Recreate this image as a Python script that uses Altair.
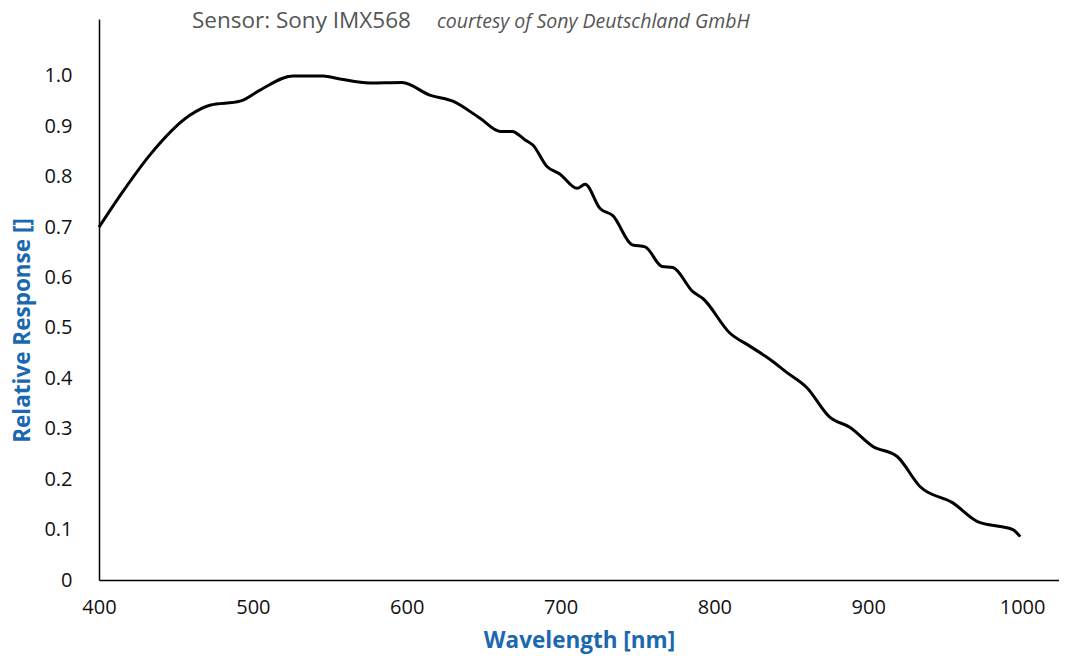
import altair as alt
import pandas as pd

wavelength = [400, 415.6, 433, 459, 472, 491.7, 504.7, 526, 545.6, 556.7, 576, 597,
              615, 630, 647.7, 660.7, 668.5, 677, 682, 691, 699.7, 710.8, 716, 725.7,
              734, 746.6, 755, 766, 773, 786, 792.7, 810, 823, 836, 847, 860, 875, 888,
              903, 918.8, 933.8, 955, 971, 985.8, 994, 998.8]
response = [0.70, 0.771, 0.843, 0.922, 0.942, 0.950, 0.972, 1.0, 1.0, 0.994, 0.986, 0.987,
            0.962, 0.950, 0.916, 0.890, 0.890, 0.873, 0.863, 0.821, 0.805, 0.777, 0.785, 0.737,
            0.723, 0.665, 0.661, 0.622, 0.620, 0.572, 0.558, 0.490, 0.464, 0.438, 0.412, 0.382,
            0.323, 0.303, 0.265, 0.245, 0.185, 0.153, 0.116, 0.106, 0.100, 0.086]

df = pd.DataFrame({"wl": wavelength, "r": response})

BLUE = "#1a69b0"
FONT = "Open Sans"

line = alt.Chart(df).mark_line(color="black", strokeWidth=3, interpolate="monotone").encode(
    x=alt.X("wl:Q", scale=alt.Scale(domain=[400, 1024], nice=False, zero=False),
            axis=alt.Axis(values=[400, 500, 600, 700, 800, 900, 1000], title="Wavelength [nm]",
                          format="d", labelFlush=False,
                          grid=False, ticks=False, domainColor="black", domainWidth=1.5,
                          labelFont=FONT, labelFontSize=20, labelColor="#111", labelPadding=17,
                          titleFont=FONT, titleFontSize=22.5, titleFontWeight="bold",
                          titleColor=BLUE, titlePadding=12)),
    y=alt.Y("r:Q", scale=alt.Scale(domain=[0, 1.113], nice=False),
            axis=alt.Axis(values=[0, 0.1, 0.2, 0.3, 0.4, 0.5, 0.6, 0.7, 0.8, 0.9, 1.0],
                          labelExpr="datum.value == 0 ? '0' : format(datum.value, '.1f')",
                          labelFlush=False,
                          title="Relative Response []", grid=False, ticks=False,
                          domainColor="black", domainWidth=1.5,
                          labelFont=FONT, labelFontSize=20, labelColor="#111", labelPadding=27,
                          titleFont=FONT, titleFontSize=22.5, titleFontWeight="bold",
                          titleColor=BLUE, titleX=-77, titleY=311, titleBaseline="middle")),
)

title_df = pd.DataFrame({"t": ["Sensor: Sony IMX568"]})
sub_df = pd.DataFrame({"t": ["courtesy of Sony Deutschland GmbH"]})
t1 = alt.Chart(title_df).mark_text(font=FONT, fontSize=22.5, color="#555555", align="left",
                                   baseline="middle").encode(
    x=alt.value(93), y=alt.value(2), text="t:N")
t2 = alt.Chart(sub_df).mark_text(font=FONT, fontSize=19.5, fontStyle="italic", color="#555555",
                                 align="left", baseline="middle").encode(
    x=alt.value(338), y=alt.value(3), text="t:N")

chart = alt.layer(line, t1, t2).properties(
    width=960, height=561,
    autosize=alt.AutoSizeParams(type="none"),
    padding={"left": 91, "top": 11, "right": 0, "bottom": 80},
).configure(background="white").configure_view(stroke=None)

chart.save("out.html", embed_options={"renderer": "svg", "actions": False})
